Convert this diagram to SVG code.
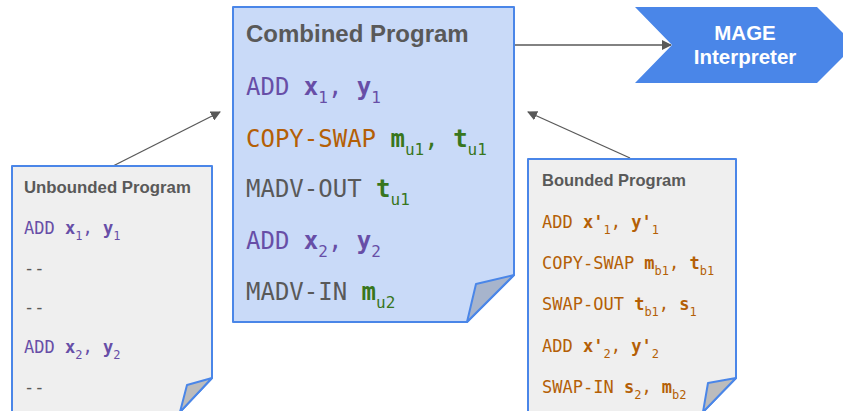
<svg xmlns="http://www.w3.org/2000/svg" width="843" height="411" viewBox="0 0 843 411">
<style>
.title{font-family:"Liberation Sans",Arial,sans-serif;font-weight:bold;fill:#595959}
.code{font-family:"DejaVu Sans Mono","Liberation Mono",monospace}
.b{font-weight:bold}
.pu{fill:#674ea7}
.or{fill:#b45f06}
.gr{fill:#38761d}
.gy{fill:#595959}
.box{stroke:#4a86e8;stroke-width:2;stroke-linejoin:round}
.conn{stroke:#595959;stroke-width:1.3;fill:none}
</style>
<defs>
<marker id="ah" viewBox="0 0 10 10" refX="9" refY="5" markerWidth="10" markerHeight="10" markerUnits="userSpaceOnUse" orient="auto">
<path d="M0,0 L10,5 L0,10 z" fill="#595959"/>
</marker>
</defs>
<rect width="843" height="411" fill="#ffffff"/>
<g id="connectors">
<line class="conn" x1="514" y1="45" x2="671" y2="45" marker-end="url(#ah)"/>
<line class="conn" x1="113" y1="166" x2="220" y2="112" marker-end="url(#ah)"/>
<line class="conn" x1="630" y1="158" x2="528" y2="112" marker-end="url(#ah)"/>
</g>
<g id="combined">
<path class="box" d="M233,7 H514 V275 L467,322 H233 Z" fill="#c9daf8"/>
<path class="box" d="M514,275 L476,284 L467,322 Z" fill="#a7b4cc"/>
<text class="title" x="246" y="42" font-size="24">Combined Program</text>
<text class="code pu" x="246" y="95" font-size="24">ADD <tspan class="b">x</tspan><tspan font-size="16" dy="8">1</tspan><tspan dy="-8">, </tspan><tspan class="b">y</tspan><tspan font-size="16" dy="8">1</tspan></text>
<text class="code or" x="246" y="147" font-size="24">COPY-SWAP <tspan class="b gr">m</tspan><tspan class="gr" font-size="16" dy="8">u1</tspan><tspan dy="-8" class="gr">, </tspan><tspan class="b gr">t</tspan><tspan class="gr" font-size="16" dy="8">u1</tspan></text>
<text class="code gy" x="246" y="197" font-size="24">MADV-OUT <tspan class="b gr">t</tspan><tspan class="gr" font-size="16" dy="8">u1</tspan></text>
<text class="code pu" x="246" y="249" font-size="24">ADD <tspan class="b">x</tspan><tspan font-size="16" dy="8">2</tspan><tspan dy="-8">, </tspan><tspan class="b">y</tspan><tspan font-size="16" dy="8">2</tspan></text>
<text class="code gy" x="246" y="300" font-size="24">MADV-IN <tspan class="b gr">m</tspan><tspan class="gr" font-size="16" dy="8">u2</tspan></text>
</g>
<g id="unbounded">
<path class="box" d="M12,166 H212 V378 L180,412 H12 Z" fill="#efefef"/>
<path class="box" d="M212,378 L187,385 L180,412 Z" fill="#bcbcbc"/>
<text class="title" x="24" y="193" font-size="16.8">Unbounded Program</text>
<text class="code pu" x="24" y="234" font-size="17">ADD <tspan class="b">x</tspan><tspan font-size="12" dy="6">1</tspan><tspan dy="-6">, </tspan><tspan class="b">y</tspan><tspan font-size="12" dy="6">1</tspan></text>
<text class="code gy" x="24" y="274" font-size="17">--</text>
<text class="code gy" x="24" y="313" font-size="17">--</text>
<text class="code pu" x="24" y="353" font-size="17">ADD <tspan class="b">x</tspan><tspan font-size="12" dy="6">2</tspan><tspan dy="-6">, </tspan><tspan class="b">y</tspan><tspan font-size="12" dy="6">2</tspan></text>
<text class="code gy" x="24" y="393" font-size="17">--</text>
</g>
<g id="bounded">
<path class="box" d="M528,159 H736 V378 L703,412 H528 Z" fill="#efefef"/>
<path class="box" d="M736,378 L708,383 L703,412 Z" fill="#bcbcbc"/>
<text class="title" x="542" y="186" font-size="16.5">Bounded Program</text>
<text class="code or" x="542" y="228" font-size="17">ADD <tspan class="b">x'</tspan><tspan font-size="12" dy="6">1</tspan><tspan dy="-6">, </tspan><tspan class="b">y'</tspan><tspan font-size="12" dy="6">1</tspan></text>
<text class="code or" x="542" y="269" font-size="17">COPY-SWAP <tspan class="b">m</tspan><tspan font-size="12" dy="6">b1</tspan><tspan dy="-6">, </tspan><tspan class="b">t</tspan><tspan font-size="12" dy="6">b1</tspan></text>
<text class="code or" x="542" y="310" font-size="17">SWAP-OUT <tspan class="b">t</tspan><tspan font-size="12" dy="6">b1</tspan><tspan dy="-6">, </tspan><tspan class="b">s</tspan><tspan font-size="12" dy="6">1</tspan></text>
<text class="code or" x="542" y="352" font-size="17">ADD <tspan class="b">x'</tspan><tspan font-size="12" dy="6">2</tspan><tspan dy="-6">, </tspan><tspan class="b">y'</tspan><tspan font-size="12" dy="6">2</tspan></text>
<text class="code or" x="542" y="393" font-size="17">SWAP-IN <tspan class="b">s</tspan><tspan font-size="12" dy="6">2</tspan><tspan dy="-6">, </tspan><tspan class="b">m</tspan><tspan font-size="12" dy="6">b2</tspan></text>
</g>
<g id="mage">
<polygon points="635,7 817,7 855,45 817,83 635,83 672,45" fill="#4a86e8"/>
<text x="745" y="40" font-family="Liberation Sans,Arial,sans-serif" font-weight="bold" font-size="20.5" fill="#ffffff" text-anchor="middle">MAGE</text>
<text x="745" y="64" font-family="Liberation Sans,Arial,sans-serif" font-weight="bold" font-size="20.5" fill="#ffffff" text-anchor="middle">Interpreter</text>
</g>
</svg>
